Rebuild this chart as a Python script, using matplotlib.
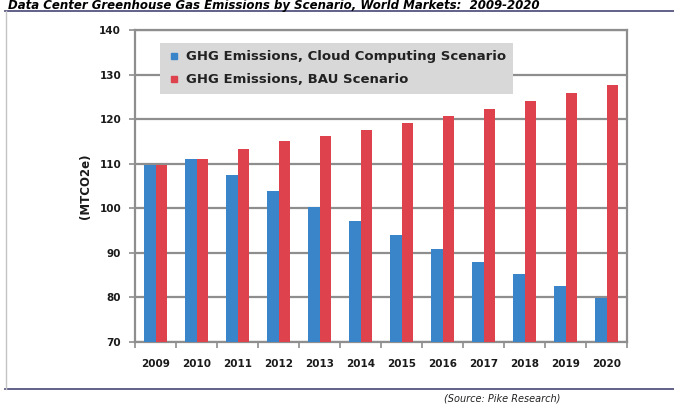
import numpy as np
import matplotlib
matplotlib.use('Agg')
from matplotlib import pyplot as plt
from matplotlib.lines import Line2D

years = ['2009', '2010', '2011', '2012', '2013', '2014',
         '2015', '2016', '2017', '2018', '2019', '2020']
cloud = [109.7, 111.0, 107.4, 103.9, 100.3, 97.1, 94.0, 90.9, 88.0, 85.2, 82.6, 79.9]
bau = [109.7, 111.0, 113.2, 115.1, 116.3, 117.6, 119.2, 120.7, 122.3, 124.1, 125.8, 127.6]
labels = ['GHG Emissions, Cloud Computing Scenario', 'GHG Emissions, BAU Scenario']

blue = '#3a85c9'
red = '#de434d'
grey = '#8e8e8e'

plt.rcParams['font.family'] = ['DejaVu Sans']

fig = plt.figure(figsize=(6.74, 4.05), dpi=100)
ax = fig.add_axes([0.2003, 0.1556, 0.730, 0.7703])

x = np.arange(len(years))
w = 0.29
ax.bar(x - w/2, cloud, w, color=blue, zorder=3)
ax.bar(x + w/2, bau, w, color=red, zorder=3)

ax.set_ylim(70, 140)
ax.set_xlim(-0.5, len(years) - 0.5)
ax.set_yticks(range(70, 141, 10))
ax.yaxis.grid(True, color=grey, lw=1.6, zorder=0)
ax.set_xticks(x)
ax.set_xticklabels(years, fontweight='bold', fontsize=7.5, color='#1a1a1a')
ax.set_xticks(np.arange(-0.5, len(years), 1), minor=True)
ax.tick_params(axis='x', which='major', length=0, pad=12)
ax.tick_params(axis='x', which='minor', length=4, width=1.2, color=grey, direction='out')
ax.tick_params(axis='y', length=4, width=1.2, color=grey, pad=6)
for lab in ax.get_yticklabels():
    lab.set_fontweight('bold')
    lab.set_fontsize(7.5)
    lab.set_color('#1a1a1a')
for s in ax.spines.values():
    s.set_color(grey)
    s.set_linewidth(1.6)

ax.set_ylabel('(MTCO2e)', fontweight='bold', fontsize=8.5, labelpad=5, color='#1a1a1a')

handles = [Line2D([], [], ls='none', marker='s', markersize=5, color=c) for c in (blue, red)]
leg = ax.legend(handles, labels, loc='upper left', bbox_to_anchor=(0.051, 0.958),
                borderaxespad=0, frameon=True, fancybox=False, facecolor='#d8d8d8',
                edgecolor='none', framealpha=1, handlelength=1.0, handletextpad=0.4,
                borderpad=0.55, labelspacing=0.75, prop={'weight': 'bold', 'size': 9.5})
for t in leg.get_texts():
    t.set_color('#222222')

fig.text(0.012, 1 - 9/405, 'Data Center Greenhouse Gas Emissions by Scenario, World Markets:  2009-2020',
         fontsize=8.5, fontweight='bold', fontstyle='italic', va='baseline', ha='left')
fig.text(0.745, 0.004, '(Source: Pike Research)', fontsize=7, fontstyle='italic',
         ha='center', va='bottom', color='#222222')

fig.add_artist(Line2D([0.008, 1.0], [0.973, 0.973], color='#55557f', lw=1.3))
fig.add_artist(Line2D([0.008, 1.0], [0.0395, 0.0395], color='#55557f', lw=1.3))
fig.add_artist(Line2D([0.009, 0.009], [0.0395, 0.973], color='#c4c4c4', lw=1.0))

fig.savefig('out.png', dpi=100)
